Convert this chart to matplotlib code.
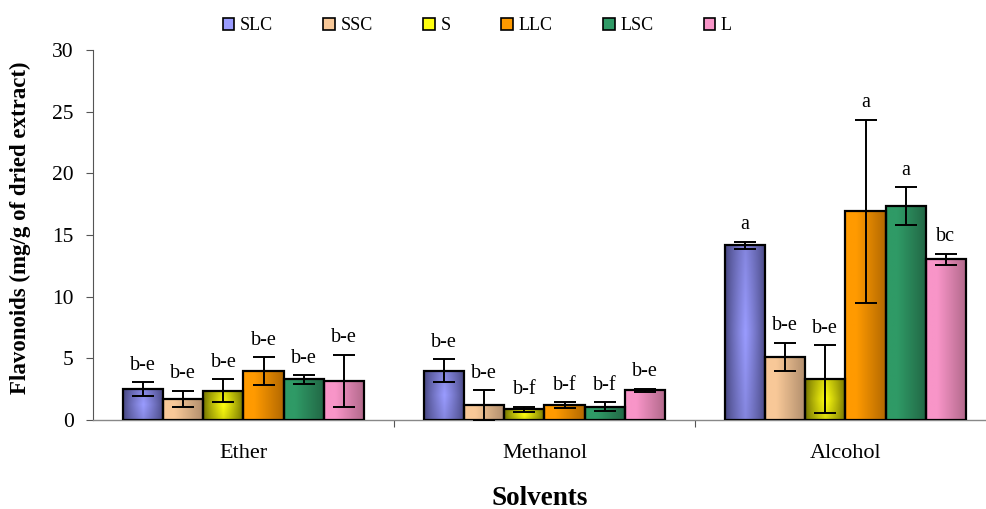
import numpy as np
import matplotlib
matplotlib.use("Agg")
import matplotlib.pyplot as plt
from matplotlib.colors import LinearSegmentedColormap
from matplotlib.patches import Rectangle

plt.rcParams['font.family'] = ['Liberation Serif', 'DejaVu Serif']

solvents = ["Ether", "Methanol", "Alcohol"]
series = ["SLC", "SSC", "S", "LLC", "LSC", "L"]

means = {
    "SLC": [2.5, 4.0, 14.17],
    "SSC": [1.73, 1.22, 5.11],
    "S":   [2.38, 0.87, 3.33],
    "LLC": [3.97, 1.22, 16.9],
    "LSC": [3.3, 1.08, 17.36],
    "L":   [3.16, 2.4, 13.03],
}
errors = {
    "SLC": [0.55, 0.95, 0.29],
    "SSC": [0.65, 1.19, 1.16],
    "S":   [0.92, 0.21, 2.73],
    "LLC": [1.1, 0.24, 7.43],
    "LSC": [0.35, 0.38, 1.52],
    "L":   [2.13, 0.13, 0.46],
}
letters = {
    "SLC": ["b-e", "b-e", "a"],
    "SSC": ["b-e", "b-e", "b-e"],
    "S":   ["b-e", "b-f", "b-e"],
    "LLC": ["b-e", "b-f", "a"],
    "LSC": ["b-e", "b-f", "a"],
    "L":   ["b-e", "b-e", "bc"],
}

# (light, dark, style) per series: 'c' = glow in the middle, 'l' = light on left
shading = {
    "SLC": ("#9a9cff", "#45457e", "c"),
    "SSC": ("#f8c898", "#8a6e55", "l"),
    "S":   ("#ffff10", "#6e6e00", "c"),
    "LLC": ("#ff9a00", "#8a4e00", "l"),
    "LSC": ("#2f9a66", "#1a4a32", "l"),
    "L":   ("#f895c8", "#8a5068", "l"),
}

fig = plt.figure(figsize=(9.86, 5.09), dpi=100)
ax = fig.add_axes([0.0943, 0.175, 0.9057, 0.727])

n = len(series)
group_w = 0.8
bw = group_w / n
x = np.arange(len(solvents))


def gradient_img(light, dark, style):
    cmap = LinearSegmentedColormap.from_list("g", [dark, light])
    t = np.linspace(0, 1, 64)
    if style == "c":
        vals = (1 - np.abs(t - 0.5) * 2) ** 0.8
        vy = 1 - np.abs(t - 0.5) * 2
        img = np.outer(0.75 + 0.25 * vy, vals)
    else:
        vals = np.clip(0.35 + 0.9 * (1 - t) - 3.0 * np.clip(0.1 - t, 0, None), 0, 1)
        img = np.tile(vals, (8, 1))
    return cmap(img)


for i, s in enumerate(series):
    pos = x - group_w / 2 + bw * (i + 0.5)
    bars = ax.bar(pos, means[s], bw, facecolor="none", edgecolor="black",
                  linewidth=1.6, zorder=3)
    light, dark, style = shading[s]
    img = gradient_img(light, dark, style)
    for b in bars:
        x0, y0 = b.get_x(), b.get_y()
        ax.imshow(img, extent=[x0, x0 + b.get_width(), y0, y0 + b.get_height()],
                  aspect="auto", origin="lower", zorder=2, interpolation="bilinear")
    ax.errorbar(pos, means[s], yerr=errors[s], fmt="none", ecolor="black",
                elinewidth=1.4, capsize=8, capthick=1.4, zorder=4)
    for p, m, e, lab in zip(pos, means[s], errors[s], letters[s]):
        ax.text(p, m + e + 1.0, lab, ha="center", va="baseline", fontsize=14.5,
                zorder=5)

ax.set_xlim(-0.5, 2.467)
ax.set_ylim(0, 30)
ax.set_yticks(np.arange(0, 31, 5))
ax.tick_params(axis="y", labelsize=15.5, length=5, width=0.8, color="#555555",
               direction="out", pad=9)
ax.set_xticks(x)
ax.set_xticklabels(solvents)
ax.tick_params(axis="x", which="major", length=0, labelsize=16, pad=17)
ax.set_xticks([0.5, 1.5], minor=True)
ax.tick_params(axis="x", which="minor", length=5, width=0.8, color="#555555",
               direction="out")
for side in ("top", "right"):
    ax.spines[side].set_visible(False)
ax.spines["left"].set_color("#555555")
ax.spines["bottom"].set_color("#888888")
ax.spines["left"].set_linewidth(0.8)
ax.spines["bottom"].set_linewidth(1.0)

ax.set_xlabel("Solvents", fontsize=19.5, fontweight="bold")
ax.xaxis.set_label_coords(0.5, -0.178)
ax.set_ylabel("Flavonoids (mg/g of dried extract)", fontsize=16.5,
              fontweight="bold")
ax.yaxis.set_label_coords(-0.069, 0.52)

handles = [Rectangle((0, 0), 1, 1, facecolor=shading[s][0], edgecolor="black",
                     linewidth=1.2) for s in series]
fig.legend(handles, series, loc="center", bbox_to_anchor=(0.484, 0.949), ncol=6,
           frameon=False, fontsize=13, handlelength=0.65, handleheight=0.65,
           handletextpad=0.3, columnspacing=2.8)

fig.savefig("out.png", dpi=100)
